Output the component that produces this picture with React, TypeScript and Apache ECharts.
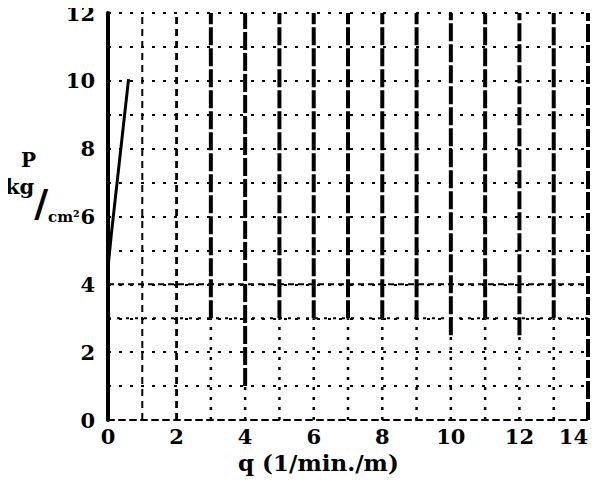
import React, { useEffect, useRef } from "react";
import * as echarts from "echarts";

// Tick values
const xTicks = [0, 2, 4, 6, 8, 10, 12, 14];
const yTicks = [0, 2, 4, 6, 8, 10, 12];
// Vertical grid rules of the graph paper (q values) and the P value down to which each rule is drawn heavy
const ruleQ = [1, 2, 3, 4, 5, 6, 7, 8, 9, 10, 11, 12, 13, 14];
const ruleHeavyFrom = [12, 12, 3, 1, 3, 3, 3, 3, 3, 2.5, 3, 2.5, 3, 0];
// Emphasised horizontal rules (P values)
const emphRules = [3, 4];
// Data curve: q vs P
const curveQ = [0, 0.1, 0.6];
const curveP = [4.5, 5.5, 10.05];

const FONT = "DejaVu Serif";

export default function App() {
  const ref = useRef<HTMLDivElement>(null);
  useEffect(() => {
    if (!ref.current) return;
    const chart = echarts.init(ref.current, null, { renderer: "svg" });
    const series: any[] = [];
    ruleQ.forEach((q, i) => {
      const from = ruleHeavyFrom[i];
      const light = from >= 12;
      if (light) {
        series.push({
          type: "line",
          data: [[q, 0], [q, 12]],
          symbol: "none",
          silent: true,
          lineStyle: { color: "#000", width: i === 0 ? 2 : 2.8, type: [7, 5] },
        });
      } else {
        series.push({
          type: "line",
          data: [[q, from], [q, 12]],
          symbol: "none",
          silent: true,
          lineStyle: { color: "#000", width: 4, type: [18, 3] },
        });
        if (from > 0) {
          series.push({
            type: "line",
            data: [[q, 0], [q, from]],
            symbol: "none",
            silent: true,
            lineStyle: { color: "#000", width: 2.5, type: [3, 7] },
          });
        }
      }
    });
    emphRules.forEach((p) => {
      series.push({
        type: "line",
        data: [[0, p], [14, p]],
        symbol: "none",
        silent: true,
        lineStyle: { color: "#000", width: 2, type: p === 4 ? [6, 4] : [3, 6] },
      });
    });
    series.push({
      type: "line",
      data: curveQ.map((q, i) => [q, curveP[i]]),
      symbol: "none",
      lineStyle: { color: "#000", width: 3 },
    });

    chart.setOption({
      animation: false,
      backgroundColor: "#fff",
      grid: { left: 108, right: 14, top: 13, bottom: 65 },
      xAxis: {
        type: "value",
        min: 0,
        max: 14,
        interval: 1,
        axisLine: { show: true, lineStyle: { color: "#000", width: 2, type: [6, 5] } },
        axisTick: { show: false },
        splitLine: { show: false },
        axisLabel: {
          margin: 6,
          color: "#000",
          fontFamily: FONT,
          fontWeight: "bold",
          fontSize: 21,
          alignMaxLabel: "right",
          formatter: (v: number) => (xTicks.includes(v) ? String(v) : ""),
        },
      },
      yAxis: {
        type: "value",
        min: 0,
        max: 12,
        interval: 1,
        axisLine: { show: true, lineStyle: { color: "#000", width: 4 } },
        axisTick: { show: false },
        splitLine: { show: true, lineStyle: { color: "#000", width: 1.8, type: [3, 8] } },
        axisLabel: {
          margin: 13,
          color: "#000",
          fontFamily: FONT,
          fontWeight: "bold",
          fontSize: 21,
          formatter: (v: number) => (yTicks.includes(v) ? String(v) : ""),
        },
      },
      graphic: [
        { type: "text", left: 21, top: 150, style: { text: "P", font: `bold 20px "${FONT}"`, fill: "#000" } },
        {
          type: "text",
          left: 5,
          top: 176,
          style: {
            text: "{a|kg}{b|/}{c|cm²}",
            fill: "#000",
            rich: {
              a: { font: `bold 21px "${FONT}"`, verticalAlign: "top", lineHeight: 52 },
              b: { font: `bold 38px "${FONT}"`, verticalAlign: "middle", lineHeight: 52 },
              c: { font: `bold 15px "${FONT}"`, verticalAlign: "bottom", lineHeight: 52, padding: [0, 0, 4, 0] },
            },
          },
        },
        { type: "text", left: 238, top: 451, style: { text: "q (1/min./m)", font: `bold 23px "${FONT}"`, fill: "#000" } },
      ],
      series,
    });
    return () => chart.dispose();
  }, []);
  return <div ref={ref} style={{ width: 602, height: 485, margin: -8 }} />;
}
